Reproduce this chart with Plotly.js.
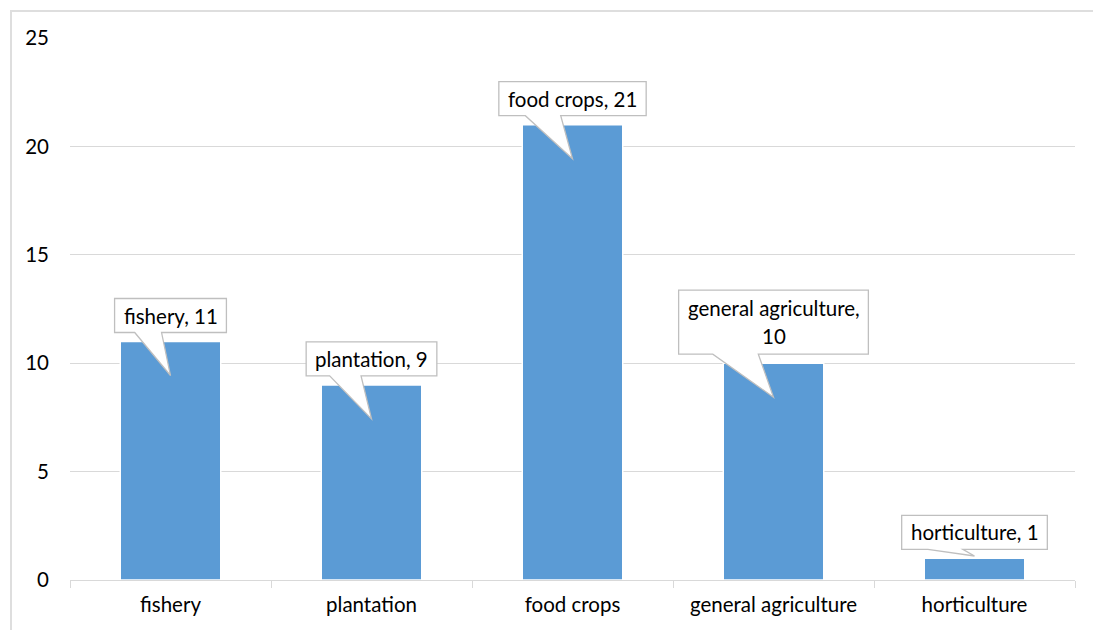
<!DOCTYPE html>
<html>
<head>
<meta charset="utf-8">
<script src="https://cdn.plot.ly/plotly-3.0.1.min.js"></script>
<style>
  html, body { margin: 0; padding: 0; background: #ffffff; }
  #wrap { position: relative; width: 1093px; height: 630px; overflow: hidden; }
  #frame { position: absolute; left: 10px; top: 10px; width: 1100px; height: 700px;
           border-top: 2px solid #dedede; border-left: 2px solid #dedede; pointer-events: none; }
  #chart { position: absolute; left: 0; top: 0; width: 1093px; height: 630px; }
</style>
</head>
<body>
<div id="wrap">
  <div id="chart"></div>
  <div id="frame"></div>
</div>
<script>
// ---- data ----
var categories = ["fishery", "plantation", "food crops", "general agriculture", "horticulture"];
var values = [11, 9, 21, 10, 1];
var yTickValues = [0, 5, 10, 15, 20, 25];

// ---- style ----
var FONT = "Lato, 'Open Sans', sans-serif";
var FONT_SIZE = 20.5;
var BAR_COLOR = "#5b9bd5";
var GRID = "#d9d9d9";
var CALLOUT_LINE = "#bfbfbf";
var W = 1093, H = 630;
var M = { l: 70, r: 18, t: 38, b: 50 };
var Y_MAX = 25;
var plotH = H - M.t - M.b;
var pxPerUnit = plotH / Y_MAX;
var WRAP_CHARS = 20;

var ctx = document.createElement("canvas").getContext("2d");
ctx.font = FONT_SIZE + "px Lato";

var shapes = [];
var annotations = [];

categories.forEach(function (cat, i) {
  var v = values[i];
  var full = cat + ", " + v;
  var lines = full.length > WRAP_CHARS ? [cat + ",", String(v)] : [full];
  var textW = Math.max.apply(null, lines.map(function (s) { return ctx.measureText(s).width; }));
  var w = textW + 18;
  var boxH = 4 + 30 * lines.length;
  var gap = 9;
  var L = -w / 2, R = w / 2, B = gap, T = gap + boxH;
  var barH = v * pxPerUnit;
  var tip = Math.min(34, barH - 24);
  var bl = L + 0.18 * w, br = L + 0.42 * w;
  var path = "M" + L + "," + B + " L" + bl + "," + B + " L0," + (-tip) + " L" + br + "," + B +
             " L" + R + "," + B + " L" + R + "," + T + " L" + L + "," + T + " Z";
  shapes.push({
    type: "path", layer: "above",
    xref: "x", yref: "y",
    xsizemode: "pixel", ysizemode: "pixel",
    xanchor: cat, yanchor: v,
    path: path,
    fillcolor: "#ffffff",
    line: { color: CALLOUT_LINE, width: 1.3 }
  });
  var n = lines.length;
  lines.forEach(function (s, k) {
    var centerUp = gap + boxH / 2 + ((n - 1) / 2 - k) * 28;
    annotations.push({
      x: cat, y: v, xref: "x", yref: "y",
      text: s, showarrow: false,
      xanchor: "center", yanchor: "middle",
      yshift: centerUp,
      font: { family: FONT, size: FONT_SIZE, color: "#000000" }
    });
  });
});

var trace = {
  type: "bar",
  x: categories,
  y: values,
  marker: { color: BAR_COLOR, line: { color: "#ffffff", width: 1.5 } },
  hoverinfo: "x+y"
};

var layout = {
  width: W, height: H,
  margin: M,
  paper_bgcolor: "#ffffff",
  plot_bgcolor: "#ffffff",
  showlegend: false,
  bargap: 0.5,
  font: { family: FONT, size: FONT_SIZE, color: "#000000" },
  xaxis: {
    type: "category",
    showgrid: false,
    showline: true, linecolor: GRID, linewidth: 1,
    ticks: "outside", tickson: "boundaries", ticklen: 7, tickcolor: GRID, tickwidth: 1,
    ticklabelstandoff: 6,
    tickfont: { family: FONT, size: FONT_SIZE, color: "#000000" },
    zeroline: false
  },
  yaxis: {
    range: [0, Y_MAX],
    tickvals: yTickValues,
    ticktext: yTickValues.map(String),
    showgrid: true, gridcolor: GRID, gridwidth: 1,
    zeroline: false, showline: false, ticks: "",
    ticklabelstandoff: 20,
    tickfont: { family: FONT, size: FONT_SIZE, color: "#000000" }
  },
  shapes: shapes,
  annotations: annotations
};

Plotly.newPlot("chart", [trace], layout, { displayModeBar: false, staticPlot: true });
</script>
</body>
</html>
